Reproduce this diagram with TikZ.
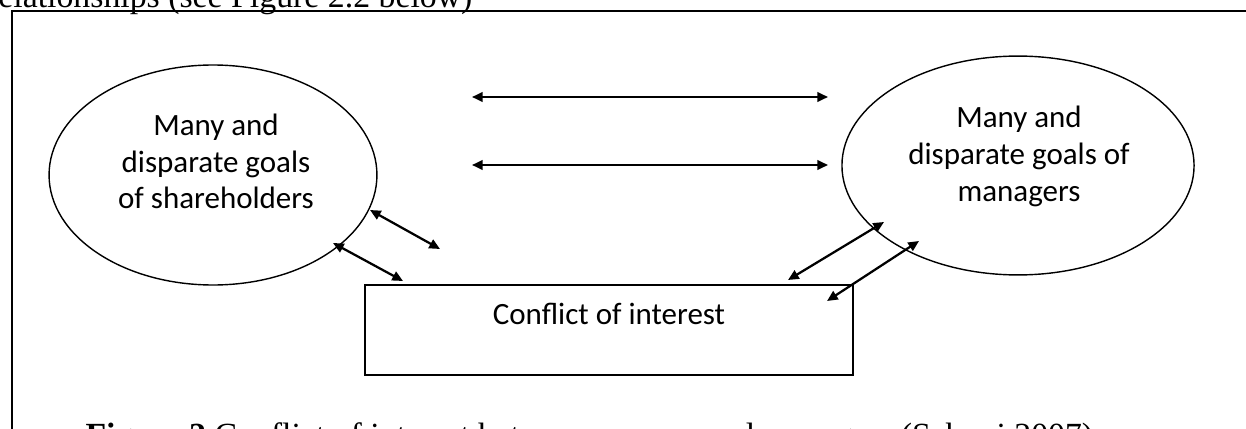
\documentclass[tikz,border=0pt]{standalone}
\usepackage{fontspec}
\setmainfont{Carlito}
\newfontfamily\pagefont{Liberation Serif}
\usetikzlibrary{
    arrows.meta,
    shapes.geometric,
    positioning
}
\tikzset{
    % Shapes
    goal/.style={ellipse,draw,line width=.5pt,inner sep=0pt},
    goal text/.style={align=center,inner sep=0pt},
    conflict box/.style={rectangle,draw,line width=.5pt,inner sep=0pt},
    %
    % Page around the figure
    page text/.style={font=\pagefont\fontsize{12}{14}\selectfont,inner sep=0pt},
    page frame/.style={line width=.5pt},
    %
    % Arrows
    arrow tip/.tip={Triangle[length=3.8pt,width=3.4pt]},
    darr/.style={<->,>={arrow tip},line width=.8pt}
}
\tikzstyle{every node}=[font=\fontsize{11}{13}\selectfont]

\begin{document}
\begin{tikzpicture}[x=.355pt,y=-.355pt]
        \useasboundingbox (0,0) rectangle (1246,428);
        % text of the page, cut by the edges
        \node[page text,anchor=base east] (intro) at (473,8) {relationships (see Figure 2.2 below)};
        \node[page text,anchor=base west] (caption) at (85,446) {\textbf{Figure 2} Conflict of interest between owners and managers (Sabuni 2007)};
        \draw[page frame] (12,470) -- (12,11) -- (1270,11);

        \node[goal,minimum width=116.4pt,minimum height=78.1pt] (share) at (213,175) {};
        \node[goal,minimum width=125pt,minimum height=77.7pt] (manage) at (1018,165.5) {};
        \node[goal text] (sharetext) at (216,161.5) {Many and\\disparate goals\\of shareholders};
        \node[goal text] (managetext) at (1019,156.5) {Many and\\disparate goals of\\managers};

        \node[conflict box,minimum width=173.2pt,minimum height=32pt] (conflict) at (609,330) {};
        \node[anchor=base] (conflicttext) at (609,324) {Conflict of interest};

        \coordinate (top west) at (472,97);
        \coordinate (top east) at (828,97);
        \coordinate (mid west) at (472,165);
        \coordinate (mid east) at (828,165);
        \coordinate (share a) at (370,210);
        \coordinate (share b) at (333,243);
        \coordinate (box a) at (440,249);
        \coordinate (box b) at (403,281);
        \coordinate (manage a) at (884,222);
        \coordinate (manage b) at (919,241);
        \coordinate (box c) at (788,280);
        \coordinate (box d) at (827,301);
        \foreach \from/\to in {top west/top east,mid west/mid east,share a/box a,share b/box b,manage a/box c,manage b/box d}
            \draw[darr] (\from) -- (\to);
\end{tikzpicture}
\end{document}
